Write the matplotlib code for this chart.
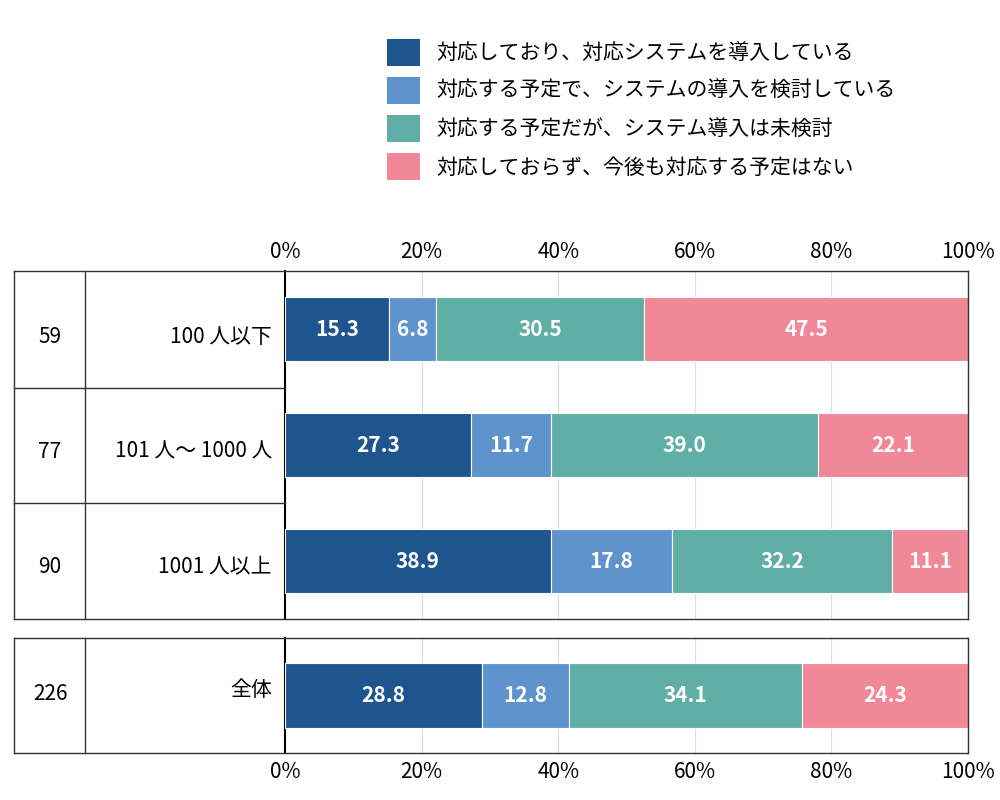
import numpy as np
import matplotlib.pyplot as plt
from matplotlib.patches import Patch
from matplotlib.lines import Line2D

plt.rcParams['font.family'] = ['Noto Sans CJK JP', 'DejaVu Sans']

series = ['対応しており、対応システムを導入している',
          '対応する予定で、システムの導入を検討している',
          '対応する予定だが、システム導入は未検討',
          '対応しておらず、今後も対応する予定はない']
colors = ['#1F558F', '#5F93CE', '#5FAFA6', '#F08898']
groups = ['100 人以下', '101 人～ 1000 人', '1001 人以上']
counts = [59, 77, 90]
values = [[15.3, 6.8, 30.5, 47.5],
          [27.3, 11.7, 39.0, 22.1],
          [38.9, 17.8, 32.2, 11.1]]
total_label = '全体'
total_count = 226
total_values = [28.8, 12.8, 34.1, 24.3]

W, H = 1000, 800
fig = plt.figure(figsize=(10, 8), dpi=100)

def fy(py):
    return 1 - py / H

ax1 = fig.add_axes([285 / W, fy(619), 683 / W, 348 / H])
ax2 = fig.add_axes([285 / W, fy(753), 683 / W, 115 / H])

def draw(ax, rows):
    n = len(rows)
    for i, row in enumerate(rows):
        y = n - 1 - i + 0.5
        left = 0
        for v, c in zip(row, colors):
            ax.barh(y, v, left=left, height=0.56, color=c, edgecolor='white', linewidth=0.8, zorder=3)
            ax.text(left + v / 2, y, f'{v:.1f}', ha='center', va='center', color='white',
                    fontsize=15, fontweight='bold', zorder=4)
            left += v
    ax.set_xlim(0, 100)
    ax.set_ylim(0, n)
    ax.set_yticks([])
    ax.set_xticks(np.arange(0, 101, 20))
    ax.set_xticklabels([f'{t}%' for t in range(0, 101, 20)], fontsize=15)
    ax.grid(axis='x', color='#dddddd', linewidth=0.8, zorder=0)
    ax.tick_params(axis='x', length=0, pad=6)
    for s in ['top', 'right', 'bottom']:
        ax.spines[s].set_visible(False)
    ax.spines['left'].set_color('black')
    ax.spines['left'].set_linewidth(1.5)

draw(ax1, values)
ax1.xaxis.tick_top()
draw(ax2, [total_values])

# table lines
def hline(x0, x1, py, lw=1.0):
    fig.add_artist(Line2D([x0 / W, x1 / W], [fy(py), fy(py)], color='#333333', lw=lw))

def vline(px, y0, y1, lw=1.0):
    fig.add_artist(Line2D([px / W, px / W], [fy(y0), fy(y1)], color='#333333', lw=lw))

hline(14, 968, 271)
hline(14, 968, 619)
hline(14, 285, 388)
hline(14, 285, 503)
vline(14, 271, 619); vline(85, 271, 619); vline(968, 271, 619)
hline(14, 968, 638)
hline(14, 968, 753)
vline(14, 638, 753); vline(85, 638, 753); vline(968, 638, 753)

row_centers = [331, 446, 561]
for c, g, py in zip(counts, groups, row_centers):
    fig.text(50 / W, fy(py + 6), str(c), ha='center', va='center', fontsize=15)
    fig.text(272 / W, fy(py + 6), g, ha='right', va='center', fontsize=15)
fig.text(50 / W, fy(694), str(total_count), ha='center', va='center', fontsize=15)
fig.text(272 / W, fy(690), total_label, ha='right', va='center', fontsize=15)

handles = [Patch(facecolor=c, edgecolor='none') for c in colors]
fig.legend(handles, series, loc='upper left', bbox_to_anchor=(0.368, 0.975), frameon=False,
           fontsize=15, handlelength=1.6, handleheight=1.6, labelspacing=0.55, handletextpad=0.8)

fig.savefig('out.png', dpi=100)
